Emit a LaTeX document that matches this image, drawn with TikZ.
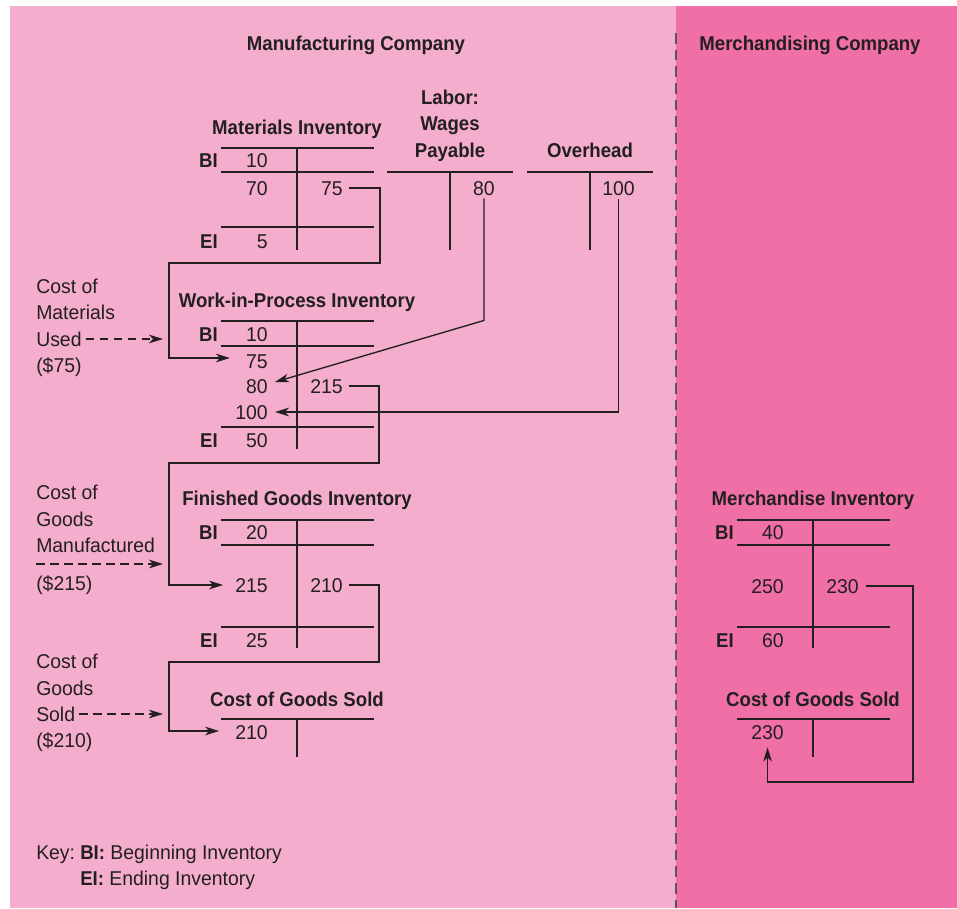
\documentclass[tikz,border=0pt]{standalone}
\usepackage{fontspec}
\setmainfont{Liberation Sans}[FakeStretch=0.97, BoldFeatures={FakeStretch=0.93}]
\usetikzlibrary{arrows.meta,calc}
\definecolor{lightpink}{HTML}{F4ADCD}
\definecolor{darkpink}{HTML}{EF6FA6}
\definecolor{ink}{HTML}{231F20}
\begin{document}
\begin{tikzpicture}[x=0.75pt,y=-0.75pt,
  txt/.style={inner sep=0pt, text height=10.8pt, text depth=0pt, font=\fontsize{15}{18}\selectfont, text=ink},
  ttl/.style={txt, font=\fontsize{15}{18}\selectfont\bfseries},
  num/.style={txt, anchor=east},
  side/.style={txt, anchor=west},
  lab/.style={txt, font=\fontsize{15}{18}\selectfont\bfseries, anchor=east},
  tline/.style={draw=ink, line width=1pt},
  conn/.style={draw=ink, line width=1pt},
  arr/.style={conn, -{Stealth[length=10.5pt,width=6.5pt,inset=3pt]}},
  darr/.style={arr, dash pattern=on 6.5pt off 4pt}]
% background
\useasboundingbox (0,0) rectangle (957,908);
\fill[lightpink] (10,6) rectangle (676,908);
\fill[darkpink] (676,6) rectangle (957,908);
\draw[ink!75, line width=1.5pt, dash pattern=on 8pt off 4.5pt] (676,33) -- (676,908);
% titles
\node[ttl] (mfg) at (356,43) {Manufacturing Company};
\node[ttl] (mer) at (810,43) {Merchandising Company};
% Materials Inventory
\node[ttl] (mi) at (297,127) {Materials Inventory};
\draw[tline] (221,148) -- (374,148) (221,172) -- (374,172) (221,227) -- (374,227) (297,148) -- (297,250);
\node[lab] (mibi) at (218,160) {BI};
\node[num] (mi10) at (268,160) {10};
\node[num] (mi70) at (268,188) {70};
\node[num] (mi75) at (343,188) {75};
\node[lab] (miei) at (218,241) {EI};
\node[num] (mi5) at (268,241) {5};
% Labor
\node[ttl] (labA) at (450,97) {Labor:};
\node[ttl] (labB) at (450,123) {Wages};
\node[ttl] (labC) at (450,150) {Payable};
\draw[tline] (387,172) -- (513,172) (450,172) -- (450,250);
\node[num] (wp80) at (495,188) {80};
% Overhead
\node[ttl] (oh) at (590,150) {Overhead};
\draw[tline] (527,172) -- (653,172) (590,172) -- (590,250);
\node[num] (oh100) at (635,188) {100};
% WIP
\node[ttl] (wip) at (297,300) {Work-in-Process Inventory};
\draw[tline] (221,321) -- (374,321) (221,346) -- (374,346) (221,427) -- (374,427) (297,321) -- (297,449);
\node[lab] (wipbi) at (218,334) {BI};
\node[num] (wip10) at (268,334) {10};
\node[num] (wip75) at (268,361) {75};
\node[num] (wip80) at (268,386) {80};
\node[num] (wip100) at (268,412) {100};
\node[num] (wip215) at (343,386) {215};
\node[lab] (wipei) at (218,440) {EI};
\node[num] (wip50) at (268,440) {50};
% FG
\node[ttl] (fg) at (297,498) {Finished Goods Inventory};
\draw[tline] (221,520) -- (374,520) (221,545) -- (374,545) (221,627) -- (374,627) (297,520) -- (297,648);
\node[lab] (fgbi) at (218,532) {BI};
\node[num] (fg20) at (268,532) {20};
\node[num] (fg215) at (268,585) {215};
\node[num] (fg210) at (343,585) {210};
\node[lab] (fgei) at (218,640) {EI};
\node[num] (fg25) at (268,640) {25};
% COGS
\node[ttl] (cogs) at (297,699) {Cost of Goods Sold};
\draw[tline] (221,719) -- (374,719) (297,719) -- (297,757);
\node[num] (cogs210) at (268,732) {210};
% Merchandise
\node[ttl] (minv) at (813,498) {Merchandise Inventory};
\draw[tline] (737,520) -- (890,520) (737,545) -- (890,545) (737,627) -- (890,627) (813,520) -- (813,648);
\node[lab] (mbi) at (734,532) {BI};
\node[num] (m40) at (784,532) {40};
\node[num] (m250) at (784,586) {250};
\node[num] (m230) at (859,586) {230};
\node[lab] (mei) at (734,640) {EI};
\node[num] (m60) at (784,640) {60};
\node[ttl] (mcogs) at (813,699) {Cost of Goods Sold};
\draw[tline] (737,719) -- (890,719) (813,719) -- (813,757);
\node[num] (mc230) at (784,732) {230};
% side texts
\node[side] (a1) at (36,286) {Cost of};
\node[side] (a2) at (36,312) {Materials};
\node[side] (a3) at (36,339) {Used};
\node[side] (a4) at (36,365) {(\$75)};
\node[side] (b1) at (36,492) {Cost of};
\node[side] (b2) at (36,519) {Goods};
\node[side] (b3) at (36,545) {Manufactured};
\node[side] (b4) at (36,583) {(\$215)};
\node[side] (c1) at (36,661) {Cost of};
\node[side] (c2) at (36,688) {Goods};
\node[side] (c3) at (36,714) {Sold};
\node[side] (c4) at (36,740) {(\$210)};
\coordinate (aend) at (163,339);
\coordinate (bstart) at (36,564);
\coordinate (bend) at (163,564);
\coordinate (cend) at (163,714);
\draw[darr] ($(a3.east)+(4,0)$) -- (aend);
\draw[darr] (bstart) -- (bend);
\draw[darr] ($(c3.east)+(4,0)$) -- (cend);
% connectors
\draw[arr] ($(mi75.east)+(6,0)$) -- ++(31,0) |- (169,263) |- ($(wip75.west)+(-16,-3)$);
\draw[arr] ($(wp80.south)+(0,3)$) -- ++(0,122) -- ($(wip80.east)+(7,-4)$);
\draw[arr] ($(oh100.south)+(0,4)$) |- ($(wip100.east)+(7,0)$);
\draw[arr] ($(wip215.east)+(6,0)$) -- ++(30,0) |- (169,463) |- ($(fg215.west)+(-12,0)$);
\draw[arr] ($(fg210.east)+(6,0)$) -- ++(30,0) |- (169,662) |- ($(cogs210.west)+(-16,-1)$);
\draw[arr] ($(m230.east)+(7,0)$) -- ++(47,0) -- ++(0,196) -| ($(mc230.south)+(0,8)$);
% key
\node[side] (key) at (36,852) {Key:};
\node[side] (keybi) at (80,852) {\textbf{BI:} Beginning Inventory};
\node[side] (keyei) at (80,878) {\textbf{EI:} Ending Inventory};
\end{tikzpicture}
\end{document}
